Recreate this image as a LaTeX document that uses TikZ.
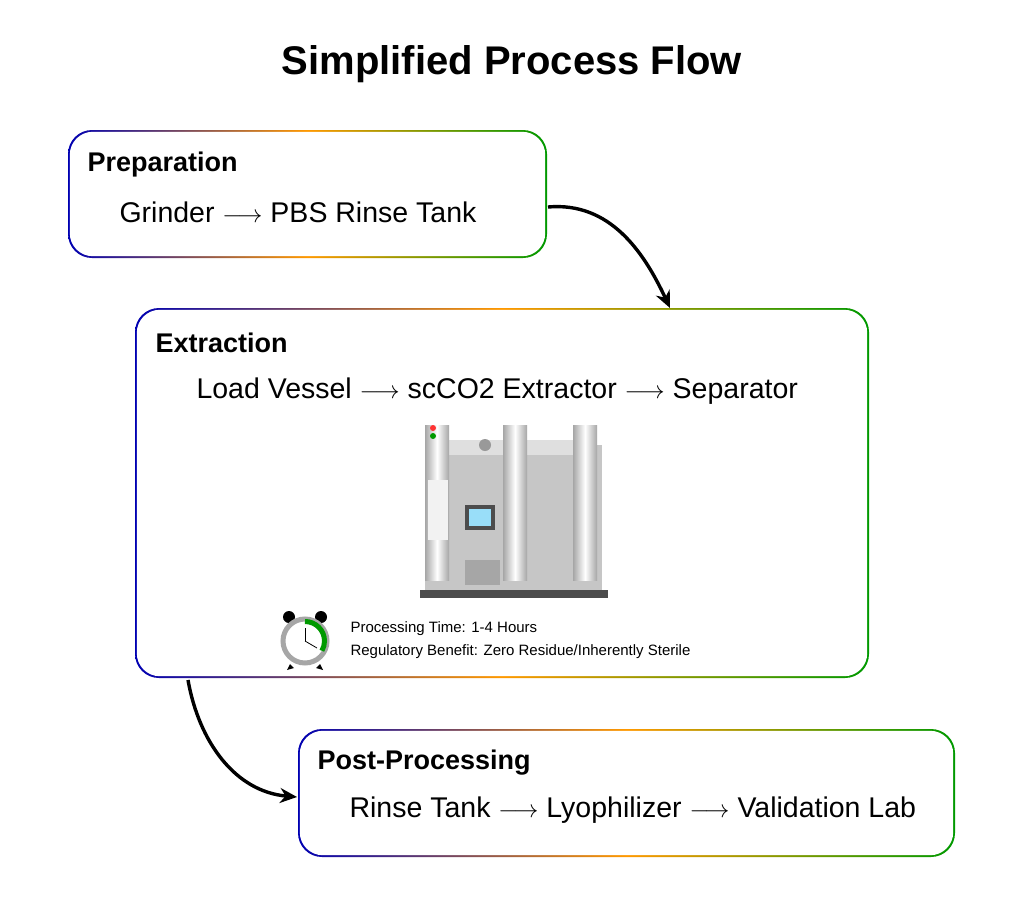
\documentclass[tikz,border=0pt]{standalone}
\usepackage{fontspec}
\setmainfont{Liberation Sans}
\usetikzlibrary{arrows.meta,calc,positioning}

\begin{document}
\begin{tikzpicture}[
    x=1pt, y=-1pt,
    >=Stealth,
    stage/.style={rounded corners=24pt, left color=blue!70!black, right color=green!60!black, middle color=orange!80!yellow},
    inner/.style={rounded corners=23pt, fill=white},
    head/.style={anchor=west, font=\fontsize{27}{30}\selectfont\bfseries},
    flow/.style={anchor=west, font=\fontsize{28.5}{31}\selectfont},
    note/.style={anchor=west, font=\fontsize{15}{17}\selectfont},
    arrow/.style={->, line width=3.4pt, arrows={-Stealth[length=17pt,width=15pt]}}
]
\useasboundingbox (0,0) rectangle (1024,907);

% title
\node[font=\fontsize{40}{44}\selectfont\bfseries] (title) at (512,64) {Simplified Process Flow};

% 1) Preparation
\shade[stage] (68,130) rectangle (547,258);
\fill[inner] (69.8,131.8) rectangle (545.2,256.2);
\node[head] (prep) at (84,165) {Preparation};
\node[flow] (prepflow) at (116,212) {Grinder $\longrightarrow$ PBS Rinse Tank};
\coordinate (prepout) at (548,207);

% 2) Extraction
\shade[stage] (135,308) rectangle (869,678);
\fill[inner] (136.8,309.8) rectangle (867.2,676.2);
\node[head] (extr) at (152,343) {Extraction};
\node[flow] (extrflow) at (193,391) {Load Vessel $\longrightarrow$ scCO2 Extractor $\longrightarrow$ Separator};
\coordinate (extrin) at (670,308);
\coordinate (extrout) at (188,680);

% extractor unit
\begin{scope}
  \fill[gray!45] (425,445) rectangle (602,590);
  \fill[gray!25] (440,440) rectangle (590,455);
  \foreach \cx in {437,515,585} {
    \shade[left color=gray!70, right color=gray!70, middle color=white] (\cx-12,425) rectangle (\cx+12,580);
  }
  \fill[gray!10] (428,480) rectangle (448,540);
  \fill[black!70] (465,505) rectangle (495,530);
  \fill[cyan!40] (469,509) rectangle (491,526);
  \fill[gray!70] (465,560) rectangle (500,585);
  \fill[red!80] (433,428) circle (3);
  \fill[green!60!black] (433,436) circle (3);
  \fill[gray!80] (485,445) circle (6);
  \fill[black!70] (420,590) rectangle (608,598);
\end{scope}

% clock
\fill[black] (289,617) circle (6) (321,617) circle (6);
\fill[black] (290,664) -- (287,670) -- (294,668) -- cycle (320,664) -- (323,670) -- (316,668) -- cycle;
\node[circle, draw=gray!70, fill=white, line width=5pt, minimum size=44pt, inner sep=0pt] (clock) at (305,641) {};
\draw[green!60!black, line width=5pt] ($(clock.center)+(0,-19.5)$) arc[start angle=-90, end angle=30, radius=19.5];
\draw[thick] (clock.center) -- ++(0,-13);
\draw[thick] (clock.center) -- ++(12,7);
\node[note] (time) at (347,629) {Processing Time: 1-4 Hours};
\node[note] (benefit) at (347,652) {Regulatory Benefit: Zero Residue/Inherently Sterile};

% 3) Post-Processing
\shade[stage] (298,729) rectangle (955,857);
\fill[inner] (299.8,730.8) rectangle (953.2,855.2);
\node[head] (post) at (314,763) {Post-Processing};
\node[flow] (postflow) at (346,810) {Rinse Tank $\longrightarrow$ Lyophilizer $\longrightarrow$ Validation Lab};
\coordinate (postin) at (297,797);

% connectors
\draw[arrow] (prepout) to[out=5, in=115] (extrin);
\draw[arrow] (extrout) to[out=-80, in=175] (postin);
\end{tikzpicture}
\end{document}
